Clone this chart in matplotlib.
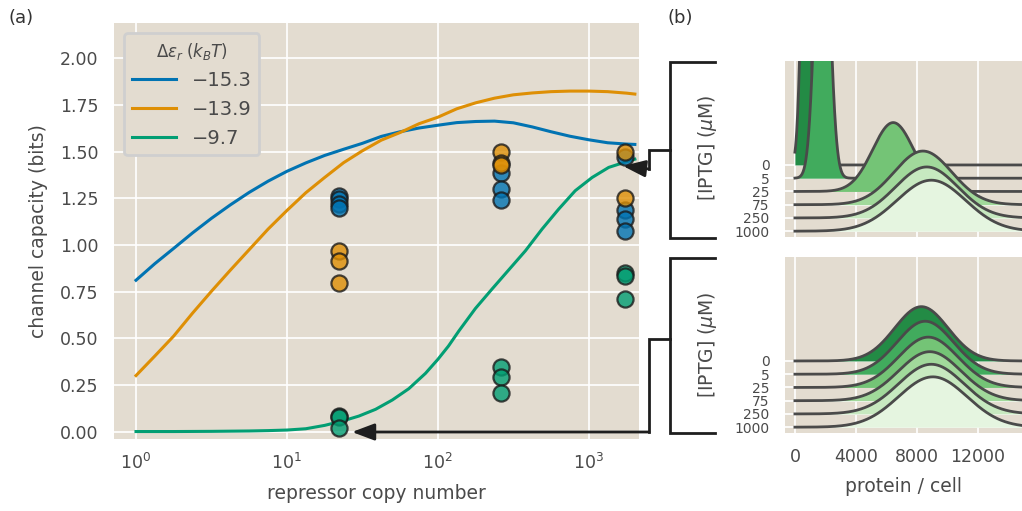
import numpy as np
import matplotlib
matplotlib.use("Agg")
import matplotlib.pyplot as plt
from matplotlib.lines import Line2D
from matplotlib.patches import FancyArrowPatch

# ---- panel (a): channel capacity vs repressor copy number ----
energies = ["\u221215.3", "\u221213.9", "\u22129.7"]
colors = ["#0173B2", "#DE8F05", "#029E73"]

# theory curves at log10(repressor) steps
log_rep_curve = [0.0, 0.125, 0.25, 0.375, 0.5, 0.625, 0.75, 0.875, 1.0, 1.125,
                 1.25, 1.375, 1.5, 1.625, 1.75, 1.875, 2.0, 2.125, 2.25, 2.375,
                 2.5, 2.625, 2.75, 2.875, 3.0, 3.125, 3.25, 3.305]
cap_O1 = [0.811, 0.90, 0.982, 1.065, 1.143, 1.215, 1.282, 1.342, 1.395, 1.440,
          1.480, 1.513, 1.545, 1.582, 1.607, 1.627, 1.642, 1.656, 1.662, 1.664,
          1.655, 1.633, 1.607, 1.583, 1.564, 1.548, 1.541, 1.539]
cap_O2 = [0.300, 0.405, 0.512, 0.635, 0.752, 0.865, 0.975, 1.085, 1.185, 1.280,
          1.362, 1.441, 1.505, 1.562, 1.603, 1.650, 1.685, 1.730, 1.762, 1.787,
          1.805, 1.815, 1.822, 1.825, 1.825, 1.822, 1.814, 1.809]
log_rep_O3 = [0.0, 0.25, 0.5, 0.75, 0.875, 1.0, 1.125, 1.25, 1.375, 1.477,
              1.587, 1.698, 1.808, 1.918, 2.0, 2.07, 2.139, 2.249, 2.36, 2.47,
              2.58, 2.69, 2.80, 2.91, 3.022, 3.132, 3.243, 3.305]
cap_O3 = [0.000, 0.000, 0.001, 0.003, 0.005, 0.008, 0.015, 0.033, 0.058, 0.083,
          0.119, 0.169, 0.230, 0.312, 0.387, 0.458, 0.539, 0.660, 0.765, 0.867,
          0.969, 1.085, 1.192, 1.291, 1.362, 1.416, 1.445, 1.460]

# experimental points
rep_data = [22, 260, 1740]
pts_O1 = {22: [1.265, 1.244, 1.222, 1.199], 260: [1.387, 1.298, 1.239],
          1740: [1.47, 1.19, 1.14, 1.074]}
pts_O2 = {22: [0.97, 0.913, 0.795], 260: [1.497, 1.44, 1.43],
          1740: [1.50, 1.25]}
pts_O3 = {22: [0.085, 0.078, 0.02], 260: [0.347, 0.291, 0.207],
          1740: [0.851, 0.833, 0.708]}

# ---- panel (b): distributions (mean, sd, peak height) per IPTG ----
iptg = ["0", "5", "25", "75", "250", "1000"]
greens = ["#238b45", "#41ab5d", "#74c476", "#a1d99b", "#c7e9c0", "#e5f5e0"]
top_mean = [700, 1800, 6450, 8400, 8650, 8950]
top_sd = [280, 450, 1350, 1900, 2050, 2250]
top_height = [22, 25, 5.2, 4.05, 3.85, 3.85]
bot_mean = [8300, 8550, 8750, 8850, 8950, 9050]
bot_sd = [1750, 1850, 1950, 2050, 2150, 2250]
bot_height = [4.1, 4.0, 3.8, 3.7, 3.75, 3.8]

plt.rcParams['font.family'] = ['DejaVu Sans']
plt.rcParams['mathtext.fontset'] = 'dejavusans'

W, H = 1022, 511
fig = plt.figure(figsize=(W / 100, H / 100), dpi=100)
bg = "#E3DCD0"
txt = "#4a4a4a"


def fx(px):
    return px / W


def fy(py):
    return 1 - py / H


ax = fig.add_axes([fx(114), fy(439), fx(639) - fx(114), fy(23) - fy(439)])
ax.set_facecolor(bg)
for s in ax.spines.values():
    s.set_visible(False)
ax.set_axisbelow(True)
ax.grid(True, which='major', color='white', lw=1.2)
ax.set_xscale('log')

x_curve = 10 ** np.array(log_rep_curve)
ax.plot(x_curve, cap_O1, color=colors[0], lw=2.2, label=energies[0], zorder=2)
ax.plot(x_curve, cap_O2, color=colors[1], lw=2.2, label=energies[1], zorder=2)
ax.plot(10 ** np.array(log_rep_O3), cap_O3, color=colors[2], lw=2.2,
        label=energies[2], zorder=2)

for pts, c in zip([pts_O1, pts_O2, pts_O3], colors):
    for r in rep_data:
        ax.scatter([r] * len(pts[r]), pts[r], s=135, facecolor=c, alpha=0.8,
                   edgecolor='#1a1a1a', lw=1.6, zorder=3)

ax.set_xlim(0.715, 2150)
ax.set_ylim(-0.04, 2.19)
ax.set_yticks([0, 0.25, 0.5, 0.75, 1.0, 1.25, 1.5, 1.75, 2.0])
ax.set_yticklabels(["%.2f" % v for v in ax.get_yticks()])
ax.xaxis.set_minor_locator(matplotlib.ticker.NullLocator())
ax.tick_params(axis='both', length=0, labelsize=12.5, colors=txt)
ax.tick_params(axis='y', pad=11)
ax.tick_params(axis='x', pad=10)
ax.set_xlabel("repressor copy number", fontsize=13.5, color=txt, labelpad=8)
ax.set_ylabel("channel capacity (bits)", fontsize=13.5, color=txt, labelpad=9)

leg = ax.legend(title=r"$\Delta\varepsilon_r\;(k_BT)$", fontsize=14,
                title_fontsize=12, loc='upper left', handlelength=2.3,
                frameon=True, fancybox=True)
leg.get_frame().set_facecolor(bg)
leg.get_frame().set_edgecolor('#cfcfcf')
leg.get_frame().set_linewidth(2)
leg.get_frame().set_alpha(1)
leg.get_title().set_color(txt)
for t in leg.get_texts():
    t.set_color(txt)


def ridge(a, means, sds, heights, show_x):
    a.set_facecolor(bg)
    for s in a.spines.values():
        s.set_visible(False)
    a.set_axisbelow(True)
    a.grid(True, color='white', lw=1.2, zorder=0)
    xs = np.linspace(0, 16000, 800)
    n = len(iptg)
    for i in range(n):
        base = n - 1 - i
        y = base + heights[i] * np.exp(-0.5 * ((xs - means[i]) / sds[i]) ** 2)
        a.fill_between(xs, base, y, color=greens[i], lw=0, zorder=2 + i)
        a.plot(xs, y, color='#4a4a4a', lw=2, zorder=2 + i)
    a.set_xlim(-650, 14900)
    a.set_ylim(-0.44, 12.85)
    a.set_yticks(range(n - 1, -1, -1))
    a.set_yticklabels(iptg)
    a.set_xticks([0, 4000, 8000, 12000])
    a.tick_params(axis='y', length=0, labelsize=10, colors=txt, pad=11)
    a.tick_params(axis='x', length=0, labelsize=12.5, colors=txt, pad=11)
    if not show_x:
        a.set_xticklabels([])
    else:
        a.set_xlabel("protein / cell", fontsize=13.5, color=txt, labelpad=8)


ax_top = fig.add_axes([fx(785), fy(237), 1 - fx(785), fy(61) - fy(237)])
ridge(ax_top, top_mean, top_sd, top_height, False)
ax_bot = fig.add_axes([fx(785), fy(433), 1 - fx(785), fy(257) - fy(433)])
ridge(ax_bot, bot_mean, bot_sd, bot_height, True)

fig.text(fx(707), fy(148), r"[IPTG] ($\mu$M)", rotation=90, ha='center',
         va='center', fontsize=13.5, color=txt)
fig.text(fx(707), fy(345), r"[IPTG] ($\mu$M)", rotation=90, ha='center',
         va='center', fontsize=13.5, color=txt)

fig.text(fx(8), fy(18), "(a)", fontsize=13, color='#333333', va='center')
fig.text(fx(667), fy(18), "(b)", fontsize=13, color='#333333', va='center')

# brackets and arrows linking the panels
kline = '#1e1e1e'


def fig_line(xs, ys):
    fig.add_artist(Line2D([fx(v) for v in xs], [fy(v) for v in ys],
                          color=kline, lw=2, transform=fig.transFigure,
                          solid_joinstyle='miter'))


fig_line([715, 670, 670, 715], [62, 62, 238, 238])
fig_line([670, 649, 649], [150, 150, 169])
fig_line([715, 670, 670, 715], [258, 258, 433, 433])
fig_line([670, 649, 649], [339, 339, 432])

for (x0, y0), (x1, y1) in [((649, 169), (623, 166)), ((649, 432), (352, 432))]:
    arr = FancyArrowPatch((fx(x0), fy(y0)), (fx(x1), fy(y1)),
                          transform=fig.transFigure, color=kline, lw=2,
                          arrowstyle='-|>,head_length=0.85,head_width=0.32',
                          mutation_scale=16, shrinkA=0, shrinkB=0)
    fig.add_artist(arr)

fig.savefig("out.png", dpi=100, facecolor='white')
